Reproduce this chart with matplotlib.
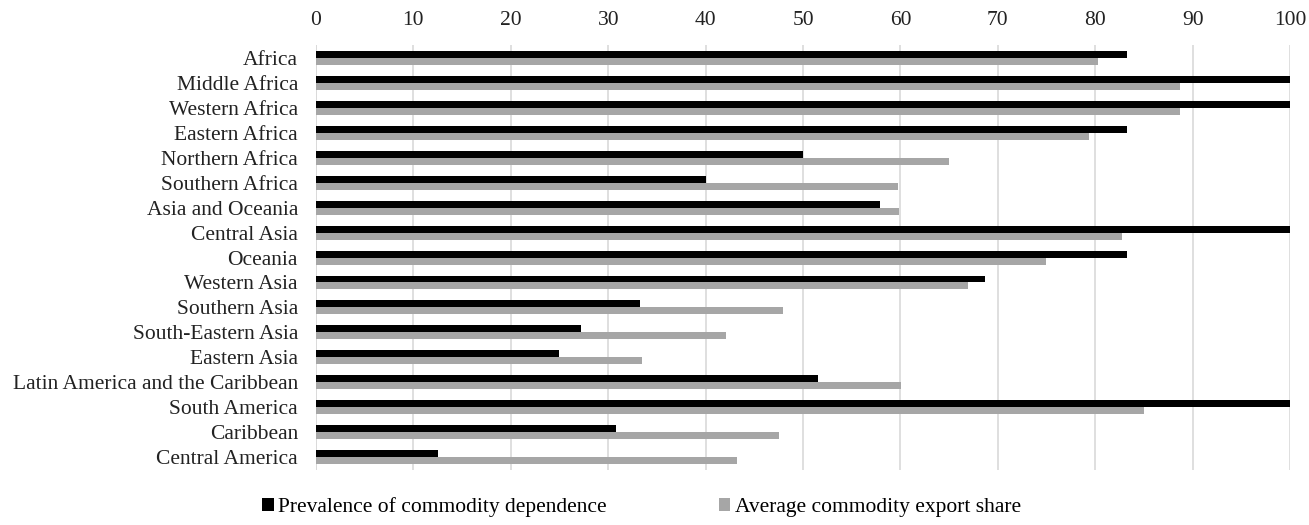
import matplotlib.pyplot as plt
import numpy as np

plt.rcParams['font.family'] = ['Liberation Serif', 'DejaVu Serif']

regions = ['Africa', 'Middle Africa', 'Western Africa', 'Eastern Africa',
           'Northern Africa', 'Southern Africa', 'Asia and Oceania',
           'Central Asia', 'Oceania', 'Western Asia', 'Southern Asia',
           'South-Eastern Asia', 'Eastern Asia',
           'Latin America and the Caribbean', 'South America', 'Caribbean',
           'Central America']
prevalence = [83.3, 100, 100, 83.3, 50.0, 40.0, 57.9, 100, 83.3, 68.7,
              33.3, 27.2, 25.0, 51.5, 100, 30.8, 12.5]
avg_share = [80.3, 88.7, 88.7, 79.4, 65.0, 59.8, 59.9, 82.7, 74.9, 66.9,
             47.9, 42.1, 33.5, 60.1, 85.0, 47.5, 43.2]

fig = plt.figure(figsize=(13.09, 5.25), dpi=100)
ax = fig.add_axes([0.2414, 0.105, 0.7441, 0.809])

y = np.arange(len(regions))
h = 0.28
ax.barh(y - h / 2, prevalence, height=h, color='black',
        label='Prevalence of commodity dependence', zorder=3)
ax.barh(y + h / 2, avg_share, height=h, color='#a6a6a6',
        label='Average commodity export share', zorder=3)

ax.set_xlim(0, 100)
ax.set_ylim(len(regions) - 0.5, -0.5)
ax.set_xticks(np.arange(0, 101, 10))
ax.set_yticks(y)
ax.set_yticklabels(regions)
ax.xaxis.tick_top()
ax.tick_params(axis='both', length=0, labelsize=15.5, colors='#222222')
ax.tick_params(axis='x', pad=11)
ax.tick_params(axis='y', pad=13)
ax.grid(axis='x', color='#d9d9d9', linewidth=1.2, zorder=0)
for s in ax.spines.values():
    s.set_visible(False)
ax.axvline(0, color='#d9d9d9', linewidth=1.2, zorder=1)

fig.legend(loc='lower center', bbox_to_anchor=(0.49, -0.022), ncol=2,
           frameon=False, fontsize=15.5, handlelength=0.55, handleheight=0.55,
           handletextpad=0.2, columnspacing=5.2)

fig.savefig('out.png', dpi=100)
